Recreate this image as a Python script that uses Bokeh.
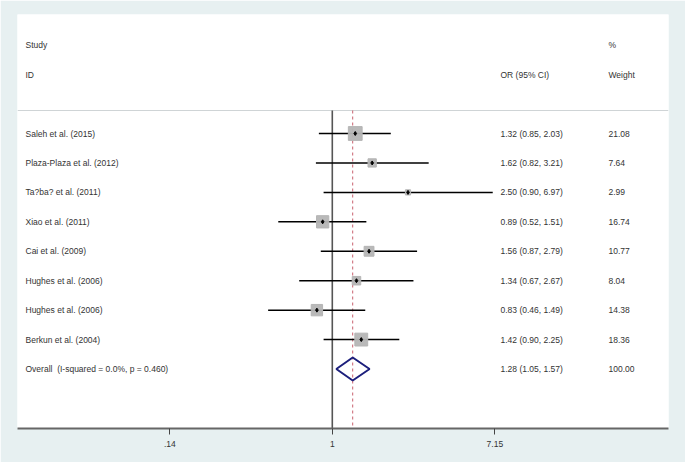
import math
from bokeh.plotting import figure
from bokeh.models import Range1d, FixedTicker, ColumnDataSource
from bokeh.core.properties import value
from bokeh.embed import file_html
from bokeh.resources import INLINE

# ---------------- data ----------------
studies = ["Saleh et al. (2015)", "Plaza-Plaza et al. (2012)", "Ta?ba? et al. (2011)",
           "Xiao et al. (2011)", "Cai et al. (2009)", "Hughes et al. (2006)",
           "Hughes et al. (2006)", "Berkun et al. (2004)"]
or_est = [1.32, 1.62, 2.50, 0.89, 1.56, 1.34, 0.83, 1.42]
ci_lo = [0.85, 0.82, 0.90, 0.52, 0.87, 0.67, 0.46, 0.90]
ci_hi = [2.03, 3.21, 6.97, 1.51, 2.79, 2.67, 1.49, 2.25]
weights = [21.08, 7.64, 2.99, 16.74, 10.77, 8.04, 14.38, 18.36]

overall_label = "Overall\u00a0 (I-squared = 0.0%, p = 0.460)"
overall_est = 1.28
overall_lo = 1.05
overall_hi = 1.57
overall_weight = 100.00

tick_values = [0.14, 1, 7.15]
tick_labels = [".14", "1", "7.15"]

header_left = ["Study", "ID"]
header_or = "OR (95% CI)"
header_w = ["%", "Weight"]

# ---------------- layout helpers ----------------
X0_PX, SCALE = 331.8, 82.63          # page px of OR=1, px per ln unit
def xdata(px):
    return math.exp((px - X0_PX) / SCALE)

ROW0_PX, ROW_STEP = 133.0, 29.44
def ydata(py):
    return (py - ROW0_PX) / ROW_STEP

FONT = value("Liberation Sans")
TXT_COLOR = "#333333"
FS = "8.5px"

p = figure(width=685, height=462, x_axis_type="log", output_backend="svg",
           toolbar_location=None, y_axis_location=None,
           x_range=Range1d(xdata(17), xdata(668)),
           y_range=Range1d(ydata(428), ydata(14)),
           min_border_left=17, min_border_right=17, min_border_top=14, min_border_bottom=34)
p.background_fill_color = "white"
p.border_fill_color = "#e7f0f1"
p.outline_line_color = None
p.grid.visible = False

rows = list(range(len(studies)))
overall_row = len(studies)

# separator line under header
p.segment(x0=[xdata(17)], x1=[xdata(668)], y0=[ydata(110)], y1=[ydata(110)],
          line_color="#cfd4d6", line_width=1)

# null line at OR=1 and dashed overall line
p.segment(x0=[1], x1=[1], y0=[ydata(110)], y1=[ydata(428)], line_color="#555555", line_width=1.6)
p.segment(x0=[overall_est], x1=[overall_est], y0=[ydata(110)], y1=[ydata(428)],
          line_color="#c9606e", line_width=1, line_dash="3 3")

src = ColumnDataSource(dict(study=studies, est=or_est, lo=ci_lo, hi=ci_hi, w=weights, y=rows,
                            size=[3.0 * math.sqrt(w) for w in weights],
                            ci=[f"{e:.2f} ({l:.2f}, {h:.2f})" for e, l, h in zip(or_est, ci_lo, ci_hi)],
                            wt=[f"{w:.2f}" for w in weights]))

# CI lines
p.segment(x0="lo", x1="hi", y0="y", y1="y", source=src, line_color="black", line_width=1.5)
# weight boxes
p.scatter(x="est", y="y", size="size", marker="square", source=src,
          fill_color="#b5b5b5", line_color="#b5b5b5", fill_alpha=0.95)
# point estimates
p.scatter(x="est", y="y", size=4, marker="diamond", source=src,
          fill_color="black", line_color="black")

# overall diamond
h = 0.39
p.patch(x=[overall_lo, overall_est, overall_hi, overall_est],
        y=[overall_row, overall_row - h, overall_row, overall_row + h],
        fill_color=None, line_color="#1c1f7c", line_width=2)

# left text column
p.text(x=xdata(25), y="y", text="study", source=src, text_font=FONT, text_font_size=FS,
       text_color=TXT_COLOR, text_baseline="middle", text_align="left")
p.text(x=[xdata(25)], y=[overall_row], text=[overall_label], text_font=FONT, text_font_size=FS,
       text_color=TXT_COLOR, text_baseline="middle", text_align="left")
# OR column
p.text(x=xdata(500), y="y", text="ci", source=src, text_font=FONT, text_font_size=FS,
       text_color=TXT_COLOR, text_baseline="middle", text_align="left")
p.text(x=[xdata(500)], y=[overall_row],
       text=[f"{overall_est:.2f} ({overall_lo:.2f}, {overall_hi:.2f})"], text_font=FONT,
       text_font_size=FS, text_color=TXT_COLOR, text_baseline="middle", text_align="left")
# weight column
p.text(x=xdata(608), y="y", text="wt", source=src, text_font=FONT, text_font_size=FS,
       text_color=TXT_COLOR, text_baseline="middle", text_align="left")
p.text(x=[xdata(608)], y=[overall_row], text=[f"{overall_weight:.2f}"], text_font=FONT,
       text_font_size=FS, text_color=TXT_COLOR, text_baseline="middle", text_align="left")

# headers
p.text(x=[xdata(25), xdata(25)], y=[ydata(44), ydata(74)], text=header_left, text_font=FONT,
       text_font_size=FS, text_color=TXT_COLOR, text_baseline="middle", text_align="left")
p.text(x=[xdata(500)], y=[ydata(74)], text=[header_or], text_font=FONT,
       text_font_size=FS, text_color=TXT_COLOR, text_baseline="middle", text_align="left")
p.text(x=[xdata(608), xdata(608)], y=[ydata(44), ydata(74)], text=header_w, text_font=FONT,
       text_font_size=FS, text_color=TXT_COLOR, text_baseline="middle", text_align="left")

# x axis
ax = p.xaxis[0]
ax.ticker = FixedTicker(ticks=tick_values)
ax.major_label_overrides = {v: l for v, l in zip(tick_values, tick_labels)}
ax.axis_line_color = "#666666"
ax.axis_line_width = 2
ax.major_tick_line_color = "#444444"
ax.major_tick_line_width = 1
ax.major_tick_out = 6
ax.major_tick_in = 0
ax.minor_tick_line_color = None
ax.major_label_standoff = 6
ax.major_label_text_font = "Liberation Sans"
ax.major_label_text_font_size = "8.5px"
ax.major_label_text_color = TXT_COLOR

open("out.html", "w").write(file_html(p, INLINE))
